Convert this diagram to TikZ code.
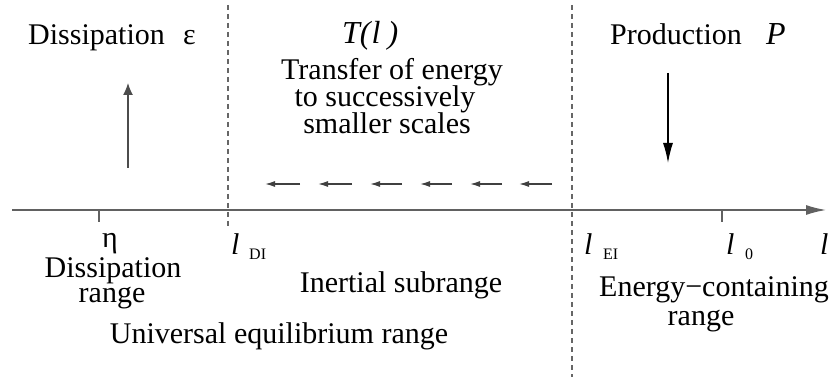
\documentclass[tikz,border=0pt]{standalone}
\usepackage{fontspec}
\setmainfont{Liberation Serif}
\usetikzlibrary{arrows.meta}
\begin{document}
\begin{tikzpicture}[x=1pt,y=-1pt,
  txt/.style={font=\fontsize{30}{34}\selectfont, inner sep=0pt},
  itxt/.style={font=\fontsize{30}{34}\selectfont\itshape, inner sep=0pt},
  sub/.style={font=\fontsize{16}{18}\selectfont, inner sep=0pt},
  axisline/.style={line width=1.5pt, draw=black!62, -{Latex[length=20pt,width=10pt]}},
  tick/.style={line width=1.5pt, draw=black!62},
  divider/.style={line width=1.2pt, draw=black!60, dash pattern=on 5pt off 4pt},
  uparrow/.style={line width=1.3pt, draw=black!70, -{Latex[length=12pt,width=10pt]}},
  downarrow/.style={line width=1.3pt, draw=black, -{Latex[length=20pt,width=10pt]}},
  smallarrow/.style={line width=1.3pt, draw=black!75, -{Latex[length=10pt,width=6pt]}}
]
\useasboundingbox (0,0) rectangle (835,379);

% axis
\coordinate (axL) at (12,210);
\coordinate (axR) at (826,210);
\draw[axisline] (axL) -- (axR);

% ticks
\coordinate (etaT) at (99,210);
\coordinate (etaB) at (99,222);
\draw[tick] (etaT) -- (etaB);
\coordinate (l0T) at (722,210);
\coordinate (l0B) at (722,222);
\draw[tick] (l0T) -- (l0B);

% dividers
\coordinate (d1T) at (228,5);
\coordinate (d1B) at (228,229);
\draw[divider] (d1T) -- (d1B);
\coordinate (d2T) at (572,5);
\coordinate (d2B) at (572,377);
\draw[divider] (d2T) -- (d2B);

% vertical arrows
\coordinate (upB) at (128,168);
\coordinate (upT) at (128,83);
\draw[uparrow] (upB) -- (upT);
\coordinate (dnT) at (668,73);
\coordinate (dnB) at (668,163);
\draw[downarrow] (dnT) -- (dnB);

% small transfer arrows
\foreach \s/\e [count=\i] in {300/265, 352/318, 402/370, 452/420, 502/470, 552/519} {
  \coordinate (fa\i) at (\s,184);
  \coordinate (fb\i) at (\e,184);
  \draw[smallarrow] (fa\i) -- (fb\i);
}

% top texts
\node[txt, anchor=base west] (diss) at (28,45) {Dissipation};
\node[txt, anchor=base west] (eps) at (183,45) {ε};
\node[itxt, anchor=base west, font=\fontsize{32}{34}\selectfont\itshape] (Tl) at (342,44) {T(\kern1pt l\kern7pt)};
\node[txt, anchor=base] (tr1) at (392,80) {Transfer of energy};
\node[txt, anchor=base] (tr2) at (385,107) {to successively};
\node[txt, anchor=base] (tr3) at (387,134) {smaller scales};
\node[txt, anchor=base west] (prod) at (610,45) {Production};
\node[itxt, anchor=base west, font=\fontsize{32}{34}\selectfont\itshape] (P) at (766,45) {P};

% axis labels
\node[txt, anchor=base] (eta) at (110,248) {η};
\node[itxt, anchor=base west] (lDI) at (231,255) {l};
\node[sub, anchor=base west] (DI) at (249,260) {DI};
\node[itxt, anchor=base west] (lEI) at (584,255) {l};
\node[sub, anchor=base west] (EI) at (603,260) {EI};
\node[itxt, anchor=base west] (l0) at (726,255) {l};
\node[sub, anchor=base west] (zero) at (745,260) {0};
\node[itxt, anchor=base west] (lax) at (820,255) {l};

% range labels
\node[txt, anchor=base] (dr1) at (113,278) {Dissipation};
\node[txt, anchor=base] (dr2) at (112,302) {range};
\node[txt, anchor=base] (inert) at (401,292) {Inertial subrange};
\node[txt, anchor=base] (univ) at (279,343) {Universal equilibrium range};
\node[txt, anchor=base] (ec1) at (714,297) {Energy−containing};
\node[txt, anchor=base] (ec2) at (701,325) {range};
\end{tikzpicture}
\end{document}
